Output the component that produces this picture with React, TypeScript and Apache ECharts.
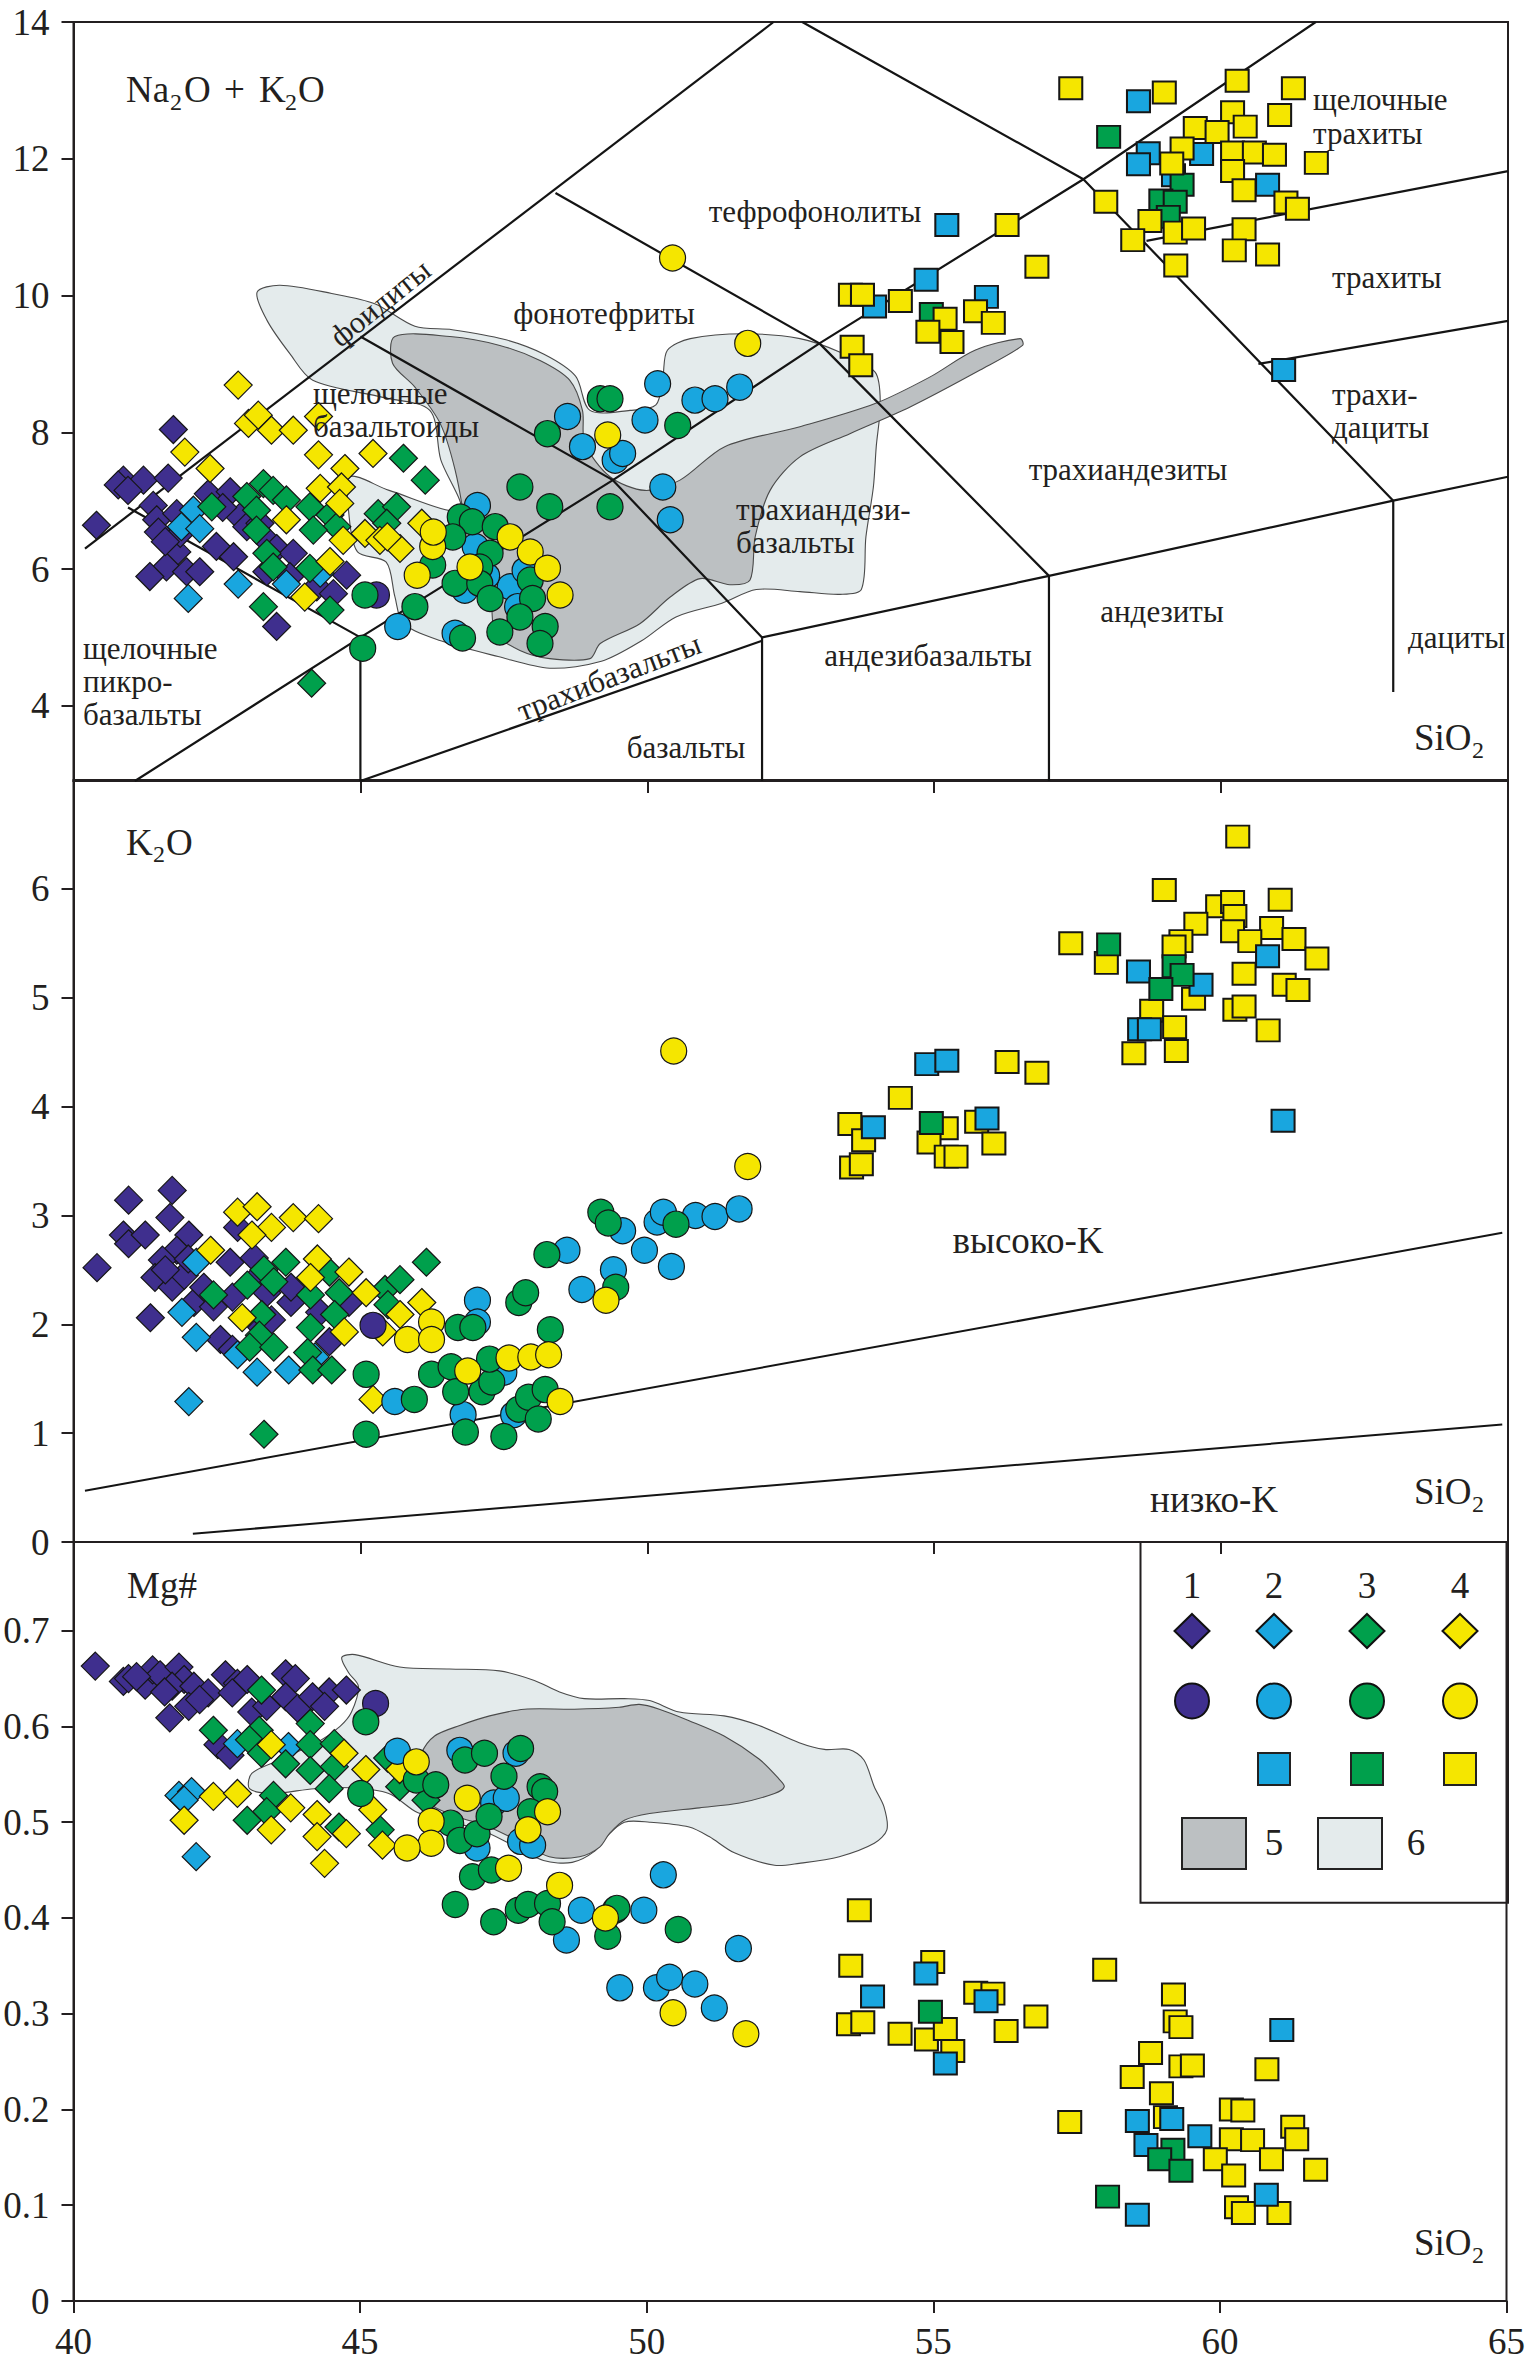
import React, { useEffect, useRef } from 'react';
import * as echarts from 'echarts';

// ---------- axes / ticks ----------
const SIO2_TICKS = [40, 45, 50, 55, 60, 65];
const TAS_TICKS = [4, 6, 8, 10, 12, 14];
const K2O_TICKS = [0, 1, 2, 3, 4, 5, 6];
const MG_TICKS = [0, 0.1, 0.2, 0.3, 0.4, 0.5, 0.6, 0.7];

// ---------- TAS classification boundaries (SiO2, Na2O+K2O) ----------
const TAS_FOIDITE_LINE = [[40.2, 6.3], [52.2, 14]];
const TAS_PICRO_LINE = [[40.95, 6.9], [45, 5], [41.07, 2.9]];
const TAS_45_LINE = [[45, 5], [45, 2.9]];
const TAS_BASALT_LINE = [[45, 2.9], [52, 4.95]];
const TAS_ALK_LINE = [[45, 5], [49.4, 7.3], [53, 9.3], [57.6, 11.7], [61.65, 14]];
const TAS_U1_LINE = [[45, 9.4], [49.4, 7.3], [52, 5], [52, 2.9]];
const TAS_U2_LINE = [[48.4, 11.5], [53, 9.3], [57, 5.9], [57, 2.9]];
const TAS_U3_LINE = [[52.7, 14], [57.6, 11.7], [63, 7], [63, 4.2]];
const TAS_SUB_LINE = [[52, 5], [57, 5.9], [63, 7], [65, 7.35]];
const TAS_TRACHYTE_LINE = [[58.7, 10.8], [65, 11.82]];
const TAS_TD_LINE = [[60.65, 9.0], [65, 9.63]];

// ---------- K2O series boundaries ----------
const K2O_HIGH_LINE = [[40.2, 0.47], [64.9, 2.84]];
const K2O_LOW_LINE = [[42.08, 0.076], [64.9, 1.08]];

// ---------- fields (5 = dark, 6 = light) ----------
const TAS_FIELD6 = [[43.2, 10.05], [43.6, 10.15], [44.5, 10.03], [45.25, 9.88], [45.95, 9.55], [46.6, 9.5], [47.5, 9.36], [48.2, 9.14], [48.75, 8.82], [49.0, 8.32], [49.7, 8.32], [50.15, 8.4], [50.27, 8.8], [50.35, 9.2], [50.75, 9.37], [51.7, 9.44], [52.66, 9.37], [53.36, 9.17], [53.97, 8.88], [54.06, 8.42], [53.99, 7.79], [53.94, 7.2], [53.81, 6.47], [53.73, 5.7], [53.36, 5.63], [52.66, 5.67], [51.9, 5.7], [51.3, 5.5], [50.5, 5.3], [49.9, 4.95], [49.2, 4.65], [48.3, 4.55], [47.4, 4.72], [46.4, 4.95], [45.75, 5.2], [45.6, 5.6], [45.45, 6.1], [44.95, 6.25], [44.8, 6.8], [44.82, 7.35], [45.5, 7.15], [46.74, 6.86], [46.4, 7.6], [46.21, 8.32], [45.39, 8.51], [44.17, 8.76], [43.77, 9.15], [43.37, 9.64]];
const TAS_FIELD5 = [[45.6, 9.4], [46.56, 9.4], [47.43, 9.27], [48.13, 9.05], [48.65, 8.76], [48.87, 8.32], [48.91, 7.84], [49.35, 7.35], [49.96, 7.15], [50.57, 7.3], [51.35, 7.79], [52.66, 8.08], [53.97, 8.42], [54.93, 8.81], [55.71, 9.2], [56.5, 9.37], [56.54, 9.27], [55.8, 8.91], [54.58, 8.37], [53.53, 7.98], [52.66, 7.64], [52.14, 7.15], [51.88, 6.47], [51.79, 5.84], [51.44, 5.77], [50.92, 5.86], [50.4, 5.59], [49.87, 5.2], [49.18, 4.91], [49.0, 4.69], [48.3, 4.69], [47.78, 4.81], [47.35, 5.06], [47.26, 5.55], [46.91, 5.98], [46.82, 6.67], [46.65, 7.45], [46.39, 8.13], [45.95, 8.66], [45.56, 9.01]];
const MG_FIELD6 = [[44.68, 0.672], [44.91, 0.675], [45.69, 0.662], [46.56, 0.66], [47.43, 0.658], [48.04, 0.648], [48.48, 0.636], [48.91, 0.629], [49.61, 0.629], [50.05, 0.627], [50.57, 0.615], [51.35, 0.611], [51.96, 0.601], [52.66, 0.583], [53.1, 0.576], [53.53, 0.576], [53.79, 0.565], [53.97, 0.537], [54.14, 0.516], [54.19, 0.492], [53.97, 0.478], [53.36, 0.464], [52.66, 0.457], [52.23, 0.455], [51.53, 0.468], [51.09, 0.485], [50.74, 0.495], [50.05, 0.5], [49.61, 0.5], [49.3, 0.485], [49.1, 0.47], [48.7, 0.458], [48.2, 0.46], [47.6, 0.478], [47.1, 0.492], [46.6, 0.5], [46.0, 0.51], [45.5, 0.53], [44.8, 0.536], [44.2, 0.535], [43.45, 0.53], [43.07, 0.535], [43.11, 0.551], [43.6, 0.565], [44.3, 0.585], [44.65, 0.6], [44.85, 0.615], [44.97, 0.642], [44.8, 0.656]];
const MG_FIELD5 = [[46.07, 0.572], [46.3, 0.59], [46.74, 0.601], [47.26, 0.611], [47.87, 0.618], [48.74, 0.618], [49.52, 0.62], [49.87, 0.623], [50.22, 0.618], [50.74, 0.606], [51.35, 0.59], [51.96, 0.566], [52.31, 0.545], [52.4, 0.537], [52.23, 0.53], [51.62, 0.52], [50.92, 0.515], [50.05, 0.509], [49.61, 0.502], [49.35, 0.488], [49.18, 0.474], [48.83, 0.464], [48.3, 0.464], [47.67, 0.483], [47.17, 0.497], [46.74, 0.505], [46.2, 0.52], [46.0, 0.55]];

// ---------- Panel 1: TAS data ----------
const TAS_G1_DIAMOND = [[40.40, 6.64], [41.74, 8.04], [40.87, 7.30], [40.78, 7.23], [41.22, 7.30], [41.65, 7.33], [40.95, 7.15], [41.39, 6.93], [41.45, 6.72], [41.80, 6.81], [41.48, 6.54], [41.80, 6.25], [41.62, 6.03], [41.33, 5.89], [41.97, 5.96], [42.20, 5.96], [42.35, 7.10], [42.73, 7.13], [42.49, 6.33], [42.79, 6.18], [42.90, 6.76], [43.37, 6.42], [43.54, 6.30], [43.83, 6.23], [43.37, 5.96], [43.77, 5.89], [44.24, 5.74], [44.53, 5.64], [44.76, 5.91], [43.54, 5.16], [43.02, 6.62], [43.25, 6.67], [41.86, 6.52], [42.6, 6.9], [41.6, 6.4]];
const TAS_G1_CIRCLE = [[45.28, 5.62]];
const TAS_G2_DIAMOND = [[42.09, 6.86], [41.88, 6.62], [42.20, 6.59], [42.0, 5.57], [42.87, 5.78], [43.71, 5.78], [44.30, 5.94]];
const TAS_G3_DIAMOND = [[42.41, 6.91], [43.31, 7.25], [43.02, 7.06], [43.48, 7.15], [43.71, 7.01], [43.19, 6.86], [43.19, 6.57], [43.37, 6.23], [43.48, 6.03], [44.12, 6.01], [44.12, 6.91], [44.47, 6.79], [44.59, 6.62], [44.18, 6.57], [45.31, 6.81], [45.63, 6.91], [45.46, 6.67], [45.75, 7.62], [46.13, 7.30], [43.31, 5.45], [44.47, 5.40], [44.15, 4.33]];
const TAS_G4_DIAMOND = [[42.87, 8.69], [43.05, 8.13], [43.22, 8.25], [43.45, 8.03], [43.83, 8.03], [44.27, 8.23], [41.94, 7.71], [42.38, 7.47], [44.27, 7.67], [45.22, 7.69], [44.73, 7.47], [44.30, 7.18], [44.67, 7.20], [44.64, 6.96], [45.08, 6.52], [44.70, 6.42], [46.07, 6.67], [45.34, 6.42], [45.69, 6.30], [44.47, 6.11], [44.03, 5.59], [43.71, 6.72], [45.47, 6.47]];
const TAS_G2_CIRCLE = [[47.04, 6.93], [47.0, 6.33], [47.61, 5.74], [47.74, 5.45], [46.82, 5.69], [47.87, 5.98], [45.65, 5.16], [46.65, 5.06], [48.61, 8.23], [50.18, 8.71], [49.96, 8.18], [50.83, 8.47], [51.18, 8.49], [51.61, 8.66], [48.87, 7.79], [49.44, 7.59], [49.57, 7.69], [50.27, 7.20], [50.40, 6.72], [47.2, 5.9]];
const TAS_G3_CIRCLE = [[46.74, 6.76], [46.95, 6.69], [47.35, 6.62], [46.61, 6.47], [47.26, 6.23], [47.08, 6.03], [46.26, 6.06], [46.65, 5.79], [47.08, 5.79], [47.26, 5.57], [47.96, 5.84], [48.00, 5.57], [47.78, 5.30], [48.22, 5.16], [48.13, 4.91], [47.43, 5.08], [46.78, 4.99], [45.95, 5.45], [45.08, 5.62], [45.04, 4.84], [47.78, 7.20], [48.30, 6.91], [49.35, 6.91], [49.18, 8.49], [49.35, 8.49], [48.26, 7.98], [50.53, 8.10]];
const TAS_G4_CIRCLE = [[51.75, 9.30], [49.31, 7.96], [47.61, 6.47], [46.26, 6.33], [47.96, 6.25], [48.26, 6.01], [48.48, 5.62], [46.91, 6.03], [45.99, 5.91], [50.44, 10.55], [46.27, 6.54]];
const TAS_G2_SQUARE = [[55.22, 11.03], [54.86, 10.23], [53.96, 9.84], [55.91, 9.98], [58.56, 12.84], [58.73, 12.08], [58.56, 11.92], [59.17, 11.76], [59.66, 12.07], [60.81, 11.62], [61.09, 8.91]];
const TAS_G3_SQUARE = [[54.95, 9.73], [58.04, 12.32], [59.32, 11.62], [58.95, 11.39], [59.20, 11.37], [59.08, 11.15]];
const TAS_G4_SQUARE = [[56.27, 11.03], [53.54, 10.01], [53.75, 10.01], [54.41, 9.92], [55.72, 9.77], [56.03, 9.60], [55.19, 9.66], [54.89, 9.47], [55.31, 9.32], [53.57, 9.25], [53.72, 8.98], [57.38, 13.03], [59.01, 12.97], [60.28, 13.14], [61.26, 13.03], [61.02, 12.64], [60.20, 12.68], [59.55, 12.45], [59.93, 12.39], [60.42, 12.47], [59.32, 12.15], [60.20, 12.09], [60.58, 12.09], [60.93, 12.06], [61.66, 11.94], [60.20, 11.82], [59.14, 11.93], [60.40, 11.54], [57.99, 11.37], [61.13, 11.36], [61.33, 11.27], [58.76, 11.09], [59.20, 10.92], [59.52, 10.98], [58.46, 10.81], [60.40, 10.97], [60.23, 10.66], [60.81, 10.60], [59.21, 10.44], [56.79, 10.42]];

// ---------- Panel 2: K2O data ----------
const K2O_G1_DIAMOND = [[40.41, 2.52], [40.96, 3.14], [41.72, 3.23], [41.68, 2.98], [40.87, 2.82], [40.96, 2.74], [41.25, 2.82], [42.01, 2.82], [42.86, 2.89], [41.80, 2.68], [41.55, 2.59], [41.42, 2.43], [41.72, 2.34], [41.93, 2.45], [42.10, 2.20], [41.34, 2.06], [42.73, 2.57], [43.15, 2.61], [43.20, 2.43], [43.37, 2.29], [43.79, 2.20], [42.56, 1.86], [42.77, 1.77], [43.28, 1.97], [43.45, 2.04], [44.46, 1.84], [44.80, 2.20], [43.79, 2.34], [44.29, 2.11], [42.77, 2.25], [42.27, 2.34], [42.44, 2.16], [41.6, 2.5], [42.0, 2.6]];
const K2O_G1_CIRCLE = [[45.22, 1.99]];
const K2O_G2_DIAMOND = [[42.14, 2.57], [41.89, 2.11], [42.14, 1.88], [42.86, 1.72], [43.20, 1.56], [42.01, 1.29], [43.75, 1.58], [44.21, 1.70]];
const K2O_G3_DIAMOND = [[43.70, 2.57], [43.32, 2.50], [43.03, 2.36], [43.49, 2.39], [42.44, 2.27], [43.28, 2.09], [43.24, 1.90], [43.07, 1.79], [43.49, 1.79], [44.13, 2.27], [44.46, 2.48], [44.63, 2.29], [44.13, 1.97], [44.55, 2.09], [44.08, 1.74], [44.17, 1.58], [44.50, 1.58], [45.43, 2.32], [45.69, 2.41], [46.15, 2.57], [45.48, 2.18], [43.32, 0.99]];
const K2O_G4_DIAMOND = [[42.86, 3.03], [43.20, 3.08], [43.45, 2.89], [43.83, 2.98], [44.27, 2.97], [43.11, 2.82], [42.39, 2.68], [44.25, 2.60], [44.13, 2.43], [44.80, 2.48], [45.10, 2.29], [46.07, 2.20], [45.69, 2.09], [45.39, 1.93], [42.94, 2.06], [44.72, 1.93], [45.22, 1.31]];
const K2O_G2_CIRCLE = [[47.04, 2.22], [47.04, 2.02], [46.79, 1.17], [45.60, 1.29], [47.67, 1.17], [47.50, 1.56], [48.60, 2.68], [48.86, 2.32], [49.41, 2.50], [49.57, 2.86], [49.95, 2.68], [50.17, 2.94], [50.28, 3.03], [50.42, 2.53], [50.84, 3.00], [51.18, 2.99], [51.60, 3.06]];
const K2O_G3_CIRCLE = [[45.10, 1.54], [45.10, 0.99], [45.94, 1.31], [46.24, 1.54], [46.58, 1.61], [46.70, 1.97], [46.96, 1.97], [46.66, 1.38], [46.83, 1.01], [47.12, 1.38], [47.29, 1.47], [47.25, 1.68], [47.50, 0.97], [47.76, 1.22], [47.93, 1.33], [48.22, 1.40], [48.10, 1.13], [48.31, 1.95], [47.76, 2.20], [47.88, 2.29], [48.25, 2.64], [49.19, 3.03], [49.32, 2.93], [49.45, 2.34], [50.50, 2.92]];
const K2O_G4_CIRCLE = [[45.82, 1.86], [46.24, 2.02], [46.24, 1.86], [46.87, 1.57], [47.59, 1.69], [47.97, 1.70], [48.28, 1.72], [48.48, 1.29], [49.28, 2.22], [50.46, 4.51], [51.75, 3.45]];
const K2O_G2_SQUARE = [[54.87, 4.39], [55.22, 4.42], [53.94, 3.81], [55.92, 3.89], [58.56, 5.24], [59.65, 5.12], [60.81, 5.38], [58.58, 4.71], [58.75, 4.71], [61.08, 3.87]];
const K2O_G3_SQUARE = [[58.04, 5.49], [59.18, 5.29], [59.32, 5.21], [58.95, 5.08], [54.95, 3.85]];
const K2O_G4_SQUARE = [[60.29, 6.48], [59.01, 5.99], [61.03, 5.90], [59.94, 5.84], [60.20, 5.88], [60.24, 5.75], [59.56, 5.68], [60.88, 5.64], [60.20, 5.61], [61.27, 5.54], [60.50, 5.52], [59.30, 5.52], [59.18, 5.47], [61.67, 5.36], [57.38, 5.50], [58.00, 5.32], [60.40, 5.22], [61.10, 5.12], [61.34, 5.07], [59.52, 4.99], [60.24, 4.89], [60.40, 4.92], [58.79, 4.88], [59.19, 4.73], [60.82, 4.70], [58.48, 4.49], [59.22, 4.51], [56.27, 4.41], [56.79, 4.31], [54.41, 4.08], [53.53, 3.84], [53.77, 3.69], [53.56, 3.44], [53.73, 3.47], [55.21, 3.80], [54.91, 3.67], [55.21, 3.54], [55.38, 3.54], [55.74, 3.86], [56.04, 3.66]];

// ---------- Panel 3: Mg# data ----------
const MG_G1_DIAMOND = [[40.38, 0.663], [40.87, 0.647], [40.96, 0.650], [41.25, 0.643], [41.38, 0.659], [41.51, 0.654], [41.84, 0.662], [41.93, 0.649], [41.72, 0.642], [41.59, 0.636], [42.10, 0.642], [42.35, 0.635], [42.65, 0.654], [42.86, 0.645], [43.03, 0.649], [42.77, 0.635], [43.70, 0.655], [43.87, 0.650], [44.46, 0.636], [44.76, 0.638], [43.11, 0.615], [43.37, 0.621], [43.70, 0.631], [43.91, 0.619], [44.17, 0.631], [44.38, 0.621], [41.68, 0.609], [42.01, 0.621], [42.52, 0.581], [42.73, 0.570], [41.1, 0.652], [42.2, 0.628]];
const MG_G1_CIRCLE = [[45.27, 0.624]];
const MG_G2_DIAMOND = [[41.84, 0.528], [42.06, 0.532], [42.14, 0.464], [42.86, 0.582], [43.75, 0.579], [41.93, 0.523]];
const MG_G3_DIAMOND = [[43.28, 0.638], [42.44, 0.596], [43.24, 0.596], [43.07, 0.586], [44.13, 0.603], [43.28, 0.572], [43.70, 0.561], [44.13, 0.581], [44.55, 0.582], [44.13, 0.554], [44.55, 0.558], [44.46, 0.535], [43.49, 0.528], [43.37, 0.511], [43.03, 0.502], [44.63, 0.495], [45.35, 0.492], [45.48, 0.567], [45.69, 0.537], [46.15, 0.523]];
const MG_G4_DIAMOND = [[42.44, 0.527], [42.86, 0.530], [41.93, 0.502], [43.45, 0.492], [43.79, 0.515], [44.25, 0.508], [44.25, 0.485], [44.38, 0.457], [44.76, 0.488], [45.10, 0.555], [45.22, 0.513], [45.69, 0.555], [45.39, 0.476], [43.45, 0.581], [44.72, 0.572]];
const MG_G2_CIRCLE = [[46.74, 0.575], [47.72, 0.572], [47.33, 0.520], [47.55, 0.525], [47.04, 0.473], [47.80, 0.480], [48.01, 0.476], [48.60, 0.377], [48.86, 0.408], [49.95, 0.408], [50.29, 0.445], [51.60, 0.368], [45.65, 0.574], [49.53, 0.327], [50.17, 0.327], [50.40, 0.338], [50.84, 0.331], [51.18, 0.306]];
const MG_G3_CIRCLE = [[45.10, 0.605], [45.01, 0.530], [45.98, 0.544], [46.32, 0.539], [46.58, 0.499], [46.74, 0.481], [47.04, 0.488], [46.83, 0.565], [47.17, 0.572], [47.51, 0.548], [47.80, 0.577], [48.14, 0.537], [48.22, 0.532], [47.25, 0.506], [47.97, 0.511], [46.96, 0.443], [47.29, 0.450], [46.66, 0.414], [47.33, 0.396], [47.76, 0.408], [47.93, 0.414], [48.27, 0.415], [48.35, 0.396], [49.45, 0.408], [49.32, 0.381], [50.55, 0.388], [49.48, 0.410]];
const MG_G4_CIRCLE = [[45.98, 0.563], [46.87, 0.525], [46.24, 0.501], [46.24, 0.478], [45.82, 0.473], [47.93, 0.492], [48.27, 0.511], [47.59, 0.452], [48.48, 0.434], [49.28, 0.400], [50.46, 0.301], [51.73, 0.279]];
const MG_G2_SQUARE = [[54.87, 0.342], [53.94, 0.318], [55.92, 0.313], [55.21, 0.248], [61.08, 0.283], [58.56, 0.188], [59.16, 0.190], [59.65, 0.172], [58.71, 0.163], [60.81, 0.111], [58.56, 0.090]];
const MG_G3_SQUARE = [[54.95, 0.302], [59.18, 0.158], [58.95, 0.148], [59.32, 0.136], [58.04, 0.109]];
const MG_G4_SQUARE = [[53.56, 0.350], [54.99, 0.354], [53.52, 0.289], [53.77, 0.291], [54.42, 0.279], [54.88, 0.273], [55.21, 0.284], [55.34, 0.261], [55.74, 0.322], [56.04, 0.321], [56.27, 0.282], [56.79, 0.297], [57.99, 0.346], [59.19, 0.320], [59.22, 0.292], [59.32, 0.286], [58.79, 0.259], [58.47, 0.234], [59.32, 0.245], [59.52, 0.246], [58.98, 0.217], [60.82, 0.242], [57.38, 0.187], [60.20, 0.200], [60.40, 0.199], [60.20, 0.169], [60.57, 0.168], [61.27, 0.182], [61.34, 0.169], [59.92, 0.148], [60.90, 0.148], [60.24, 0.131], [61.67, 0.137], [60.29, 0.098], [60.41, 0.092], [61.03, 0.092], [59.05, 0.192], [53.71, 0.408]];

// ---------- styles ----------
const W = 1528;
const H = 2370;
const FONT = '"Liberation Serif", "DejaVu Serif", serif';
const INK = '#231f20';
const C1 = '#3f2f8e';
const C2 = '#19a6df';
const C3 = '#00a04c';
const C4 = '#f5e600';
const FILL5 = '#bcc0c2';
const FILL6 = '#e4ebec';
const PLOT_LEFT = 73.5;
const PLOT_WIDTH = 1434.5;
const LBL = 31;

function scatter(grid: number, data: number[][], shape: string, color: string) {
  const cfg: any = {
    diamond: { symbol: 'diamond', size: [28, 28], bw: 1.2 },
    circle: { symbol: 'circle', size: 26, bw: 1.2 },
    square: { symbol: 'rect', size: [23, 22], bw: 2 },
  }[shape];
  return {
    type: 'scatter', xAxisIndex: grid, yAxisIndex: grid, data,
    symbol: cfg.symbol, symbolSize: cfg.size, silent: true, z: 3,
    itemStyle: { color, borderColor: '#161616', borderWidth: cfg.bw, opacity: 1 },
  };
}

function boundary(grid: number, data: number[][], width = 2.2) {
  return {
    type: 'line', xAxisIndex: grid, yAxisIndex: grid, data, symbol: 'none',
    silent: true, z: 2, lineStyle: { color: '#141414', width }, clip: true,
  };
}

function field(grid: number, pts: number[][], fill: string) {
  return {
    type: 'custom', coordinateSystem: 'cartesian2d', xAxisIndex: grid, yAxisIndex: grid,
    data: [pts[0]], silent: true, z: 1, clip: true,
    renderItem: (_p: any, api: any) => ({
      type: 'polygon',
      shape: { points: pts.map((p) => api.coord(p)), smooth: 0.3 },
      style: { fill, stroke: '#4a4a4a', lineWidth: 1.1 },
    }),
  };
}

function xAxis(grid: number, labels: boolean) {
  return {
    type: 'value', gridIndex: grid, min: 40, max: 65, interval: 5,
    axisLine: { show: true, onZero: false, lineStyle: { color: INK, width: 2 } },
    axisTick: { show: true, inside: false, length: 12, lineStyle: { color: INK, width: 2 }, customValues: SIO2_TICKS },
    axisLabel: { show: labels, fontFamily: FONT, fontSize: 37, color: INK, margin: 22, customValues: SIO2_TICKS },
    splitLine: { show: false },
  };
}

function yAxis(grid: number, min: number, max: number, ticks: number[], splitNumber: number) {
  const isTick = (v: number) => ticks.some((t) => Math.abs(t - v) < 1e-6);
  return {
    type: 'value', gridIndex: grid, min, max, splitNumber,
    axisLine: { show: true, onZero: false, lineStyle: { color: INK, width: 2 } },
    axisTick: { show: true, inside: false, length: 12, lineStyle: { color: INK, width: 2 }, customValues: ticks },
    axisLabel: {
      show: true, fontFamily: FONT, fontSize: 37, color: INK, margin: 24, customValues: ticks,
      formatter: (v: number) => (isTick(v) ? String(Math.round(v * 10) / 10) : ''),
    },
    splitLine: { show: false },
  };
}

function txt(text: string, x: number, y: number, o: any = {}) {
  return {
    type: 'text', x, y, rotation: o.rot ? (o.rot * Math.PI) / 180 : 0, z: 20, silent: true,
    style: {
      text, fontFamily: FONT, fontSize: o.size || LBL, fill: INK,
      align: o.align || 'left', verticalAlign: 'middle',
    },
  };
}

function legendGraphics() {
  const xs = [1192, 1274, 1367, 1460];
  const cols = [C1, C2, C3, C4];
  const els: any[] = [];
  els.push({ type: 'rect', z: 15, silent: true, shape: { x: 1140.5, y: 1542, width: 367.5, height: 360.7 }, style: { fill: 'rgba(0,0,0,0)', stroke: INK, lineWidth: 2 } });
  xs.forEach((cx, i) => {
    els.push(txt(String(i + 1), cx, 1585, { size: 37, align: 'center' }));
    const cy = 1631;
    els.push({ type: 'polygon', z: 20, silent: true, shape: { points: [[cx, cy - 17], [cx + 17.5, cy], [cx, cy + 17], [cx - 17.5, cy]] }, style: { fill: cols[i], stroke: '#111', lineWidth: 2 } });
    els.push({ type: 'ellipse', z: 20, silent: true, shape: { cx, cy: 1701, rx: 17, ry: 17.5 }, style: { fill: cols[i], stroke: '#111', lineWidth: 2 } });
    if (i > 0) {
      els.push({ type: 'rect', z: 20, silent: true, shape: { x: cx - 16, y: 1753, width: 32, height: 32 }, style: { fill: cols[i], stroke: '#222', lineWidth: 2 } });
    }
  });
  els.push({ type: 'rect', z: 20, silent: true, shape: { x: 1182, y: 1818, width: 64, height: 51 }, style: { fill: FILL5, stroke: '#222', lineWidth: 2 } });
  els.push(txt('5', 1274, 1842, { size: 37, align: 'center' }));
  els.push({ type: 'rect', z: 20, silent: true, shape: { x: 1318, y: 1818, width: 64, height: 51 }, style: { fill: FILL6, stroke: '#222', lineWidth: 2 } });
  els.push(txt('6', 1416, 1842, { size: 37, align: 'center' }));
  return els;
}

function sio2Label(x: number, baseline: number) {
  return [
    txt('SiO', x, baseline - 12.5, { size: 37 }),
    txt('2', x + 58, baseline, { size: 24 }),
  ];
}

function buildOption(): any {
  const grids = [
    { left: PLOT_LEFT, width: PLOT_WIDTH, top: 22, height: 759 },
    { left: PLOT_LEFT, width: PLOT_WIDTH, top: 780, height: 762 },
    { left: PLOT_LEFT, width: PLOT_WIDTH, top: 1542, height: 759 },
  ].map((g) => ({ ...g, show: true, borderColor: INK, borderWidth: 2, backgroundColor: 'transparent', containLabel: false }));

  const series: any[] = [
    field(0, TAS_FIELD6, FILL6), field(0, TAS_FIELD5, FILL5),
    field(2, MG_FIELD6, FILL6), field(2, MG_FIELD5, FILL5),
    ...[TAS_FOIDITE_LINE, TAS_PICRO_LINE, TAS_45_LINE, TAS_BASALT_LINE, TAS_ALK_LINE, TAS_U1_LINE,
      TAS_U2_LINE, TAS_U3_LINE, TAS_SUB_LINE, TAS_TRACHYTE_LINE, TAS_TD_LINE].map((l) => boundary(0, l)),
    boundary(1, K2O_HIGH_LINE, 2), boundary(1, K2O_LOW_LINE, 2),
    // panel 1
    scatter(0, TAS_G1_DIAMOND, 'diamond', C1), scatter(0, TAS_G2_DIAMOND, 'diamond', C2),
    scatter(0, TAS_G3_DIAMOND, 'diamond', C3), scatter(0, TAS_G4_DIAMOND, 'diamond', C4),
    scatter(0, TAS_G1_CIRCLE, 'circle', C1), scatter(0, TAS_G2_CIRCLE, 'circle', C2),
    scatter(0, TAS_G3_CIRCLE, 'circle', C3), scatter(0, TAS_G4_CIRCLE, 'circle', C4),
    scatter(0, TAS_G2_SQUARE, 'square', C2), scatter(0, TAS_G3_SQUARE, 'square', C3), scatter(0, TAS_G4_SQUARE, 'square', C4),
    // panel 2
    scatter(1, K2O_G1_DIAMOND, 'diamond', C1), scatter(1, K2O_G2_DIAMOND, 'diamond', C2),
    scatter(1, K2O_G3_DIAMOND, 'diamond', C3), scatter(1, K2O_G4_DIAMOND, 'diamond', C4),
    scatter(1, K2O_G1_CIRCLE, 'circle', C1), scatter(1, K2O_G2_CIRCLE, 'circle', C2),
    scatter(1, K2O_G3_CIRCLE, 'circle', C3), scatter(1, K2O_G4_CIRCLE, 'circle', C4),
    scatter(1, K2O_G4_SQUARE, 'square', C4), scatter(1, K2O_G2_SQUARE, 'square', C2), scatter(1, K2O_G3_SQUARE, 'square', C3),
    // panel 3
    scatter(2, MG_G1_DIAMOND, 'diamond', C1), scatter(2, MG_G2_DIAMOND, 'diamond', C2),
    scatter(2, MG_G3_DIAMOND, 'diamond', C3), scatter(2, MG_G4_DIAMOND, 'diamond', C4),
    scatter(2, MG_G1_CIRCLE, 'circle', C1), scatter(2, MG_G2_CIRCLE, 'circle', C2),
    scatter(2, MG_G3_CIRCLE, 'circle', C3), scatter(2, MG_G4_CIRCLE, 'circle', C4),
    scatter(2, MG_G4_SQUARE, 'square', C4), scatter(2, MG_G2_SQUARE, 'square', C2), scatter(2, MG_G3_SQUARE, 'square', C3),
  ];

  const graphics: any[] = [
    // panel titles
    txt('Na', 126, 89, { size: 37 }), txt('2', 170, 102, { size: 24 }),
    txt('O', 184, 89, { size: 37 }), txt('+', 224, 89, { size: 37 }),
    txt('K', 259, 89, { size: 37 }), txt('2', 285, 102, { size: 24 }), txt('O', 298, 89, { size: 37 }),
    txt('K', 126, 842, { size: 37 }), txt('2', 153, 854, { size: 24 }), txt('O', 166, 842, { size: 37 }),
    txt('Mg#', 127, 1585, { size: 37 }),
    ...sio2Label(1414, 750), ...sio2Label(1414, 1504), ...sio2Label(1414, 2255),
    // TAS fields
    txt('щелочные', 83, 648), txt('пикро-', 83, 681), txt('базальты', 83, 714),
    txt('щелочные', 313, 393), txt('базальтоиды', 313, 426),
    txt('фоидиты', 380, 303, { align: 'center', rot: 38.7 }),
    txt('фонотефриты', 604, 313, { align: 'center' }),
    txt('тефрофонолиты', 815, 211, { align: 'center' }),
    txt('трахиандези-', 736, 509), txt('базальты', 736, 542),
    txt('трахибазальты', 609, 677, { align: 'center', rot: 21 }),
    txt('базальты', 686, 747, { align: 'center' }),
    txt('андезибазальты', 928, 655, { align: 'center' }),
    txt('трахиандезиты', 1128, 469, { align: 'center' }),
    txt('андезиты', 1162, 611, { align: 'center' }),
    txt('дациты', 1408, 637),
    txt('трахи-', 1332, 394), txt('дациты', 1332, 427),
    txt('трахиты', 1332, 277),
    txt('щелочные', 1313, 99), txt('трахиты', 1313, 133),
    // K2O fields
    txt('высоко-K', 1028, 1240, { align: 'center', size: 37 }),
    txt('низко-K', 1214, 1499, { align: 'center', size: 37 }),
    ...legendGraphics(),
  ];

  return {
    animation: false,
    backgroundColor: '#ffffff',
    grid: grids,
    xAxis: [xAxis(0, false), xAxis(1, false), xAxis(2, true)],
    yAxis: [
      yAxis(0, 2.9, 14, TAS_TICKS, 5),
      yAxis(1, 0, 7, K2O_TICKS, 7),
      yAxis(2, 0, 0.7926, MG_TICKS, 8),
    ],
    series,
    graphic: { elements: graphics },
  };
}

export default function App() {
  const ref = useRef<HTMLDivElement>(null);
  useEffect(() => {
    if (!ref.current) return;
    const chart = echarts.init(ref.current, null, { renderer: 'svg', width: W, height: H });
    chart.setOption(buildOption());
    return () => chart.dispose();
  }, []);
  return (
    <div
      ref={ref}
      style={{ position: 'absolute', left: 0, top: 0, width: W, height: H, background: '#fff' }}
    />
  );
}
